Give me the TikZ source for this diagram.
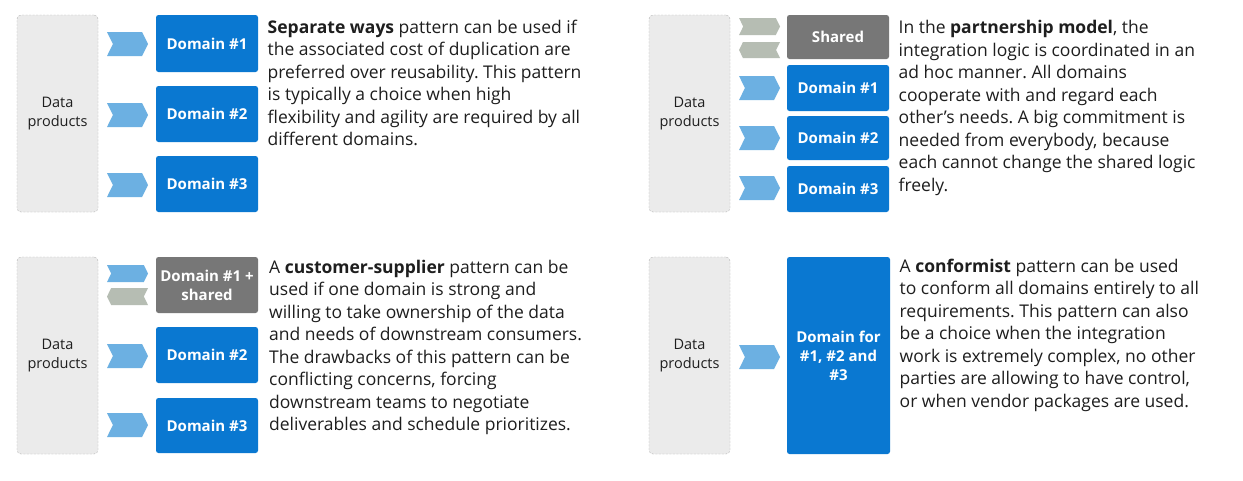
\documentclass[tikz,border=0pt]{standalone}
\usepackage{fontspec}
\setmainfont{Open Sans}
\usetikzlibrary{shapes.symbols,positioning}
\frenchspacing

\definecolor{domblue}{HTML}{0A78D1}
\definecolor{chevblue}{HTML}{6CB0E2}
\definecolor{sharedgray}{HTML}{777777}
\definecolor{chevgray}{HTML}{B6BDB3}
\definecolor{dpfill}{HTML}{EBEBEB}
\definecolor{dpline}{HTML}{B4B4B4}
\definecolor{notetext}{HTML}{1E1E1E}

\begin{document}
\begin{tikzpicture}[x=1pt,y=-1pt,
  dataprod/.style={draw=dpline,dash pattern=on 2pt off 1.5pt,fill=dpfill,
    rounded corners=4pt,minimum width=81pt,minimum height=197pt,
    inner sep=0pt,align=center,
    text=notetext,font=\fontsize{14.5}{19}\selectfont},
  dombox/.style={fill=domblue,rounded corners=2.5pt,text=white,
    minimum width=102pt,inner sep=0pt,align=center,
    font=\fontsize{15}{19}\selectfont\bfseries},
  sharedbox/.style={dombox,fill=sharedgray},
  chevr/.style={signal,signal to=east,signal from=west,fill=chevblue,
    minimum width=41pt,inner sep=0pt,signal pointer angle=127},
  chevl/.style={chevr,signal to=west,signal from=east,fill=chevgray},
  note/.style={anchor=north west,align=left,inner sep=0pt,text=notetext,
    font=\fontsize{17.5}{22.5}\selectfont}]
  \fill[white] (0,0) rectangle (1243,480);
  \useasboundingbox (0,0) rectangle (1243,480);

  % separate ways
  \node[dataprod] (dp1) at (57.5,113.5) {Data\\products};
  \node[chevr,minimum height=24pt] (c11) at (127.5,44) {};
  \node[chevr,minimum height=24pt] (c12) at (127.5,115) {};
  \node[chevr,minimum height=24pt] (c13) at (127.5,185) {};
  \node[dombox,minimum height=57pt] (d11) at (207,43.5) {Domain \#1};
  \node[dombox,minimum height=56pt] (d12) at (207,114) {Domain \#2};
  \node[dombox,minimum height=56pt] (d13) at (207,184) {Domain \#3};
  \node[note] (t1) at (267.5,19.7) {\textbf{Separate ways} pattern can be used if\\
    the associated cost of duplication are\\
    preferred over reusability. This pattern\\
    is typically a choice when high\\
    flexibility and agility are required by all\\
    different domains.};

  % partnership model
  \begin{scope}[shift={(632,0)}]
   \node[dataprod] (dp2) at (57.5,113.5) {Data\\products};
   \node[chevr,fill=chevgray,minimum height=17pt] (c2s) at (127.5,26.5) {};
   \node[chevl,minimum height=16pt] (c2r) at (127.5,50) {};
   \node[chevr,minimum height=24pt] (c21) at (127.5,88) {};
   \node[chevr,minimum height=24pt] (c22) at (127.5,138) {};
   \node[chevr,minimum height=24pt] (c23) at (127.5,188) {};
   \node[sharedbox,minimum height=44pt] (s2) at (206,37) {Shared};
   \node[dombox,minimum height=46pt] (d21) at (206,88) {Domain \#1};
   \node[dombox,minimum height=44pt] (d22) at (206,138) {Domain \#2};
   \node[dombox,minimum height=46pt] (d23) at (206,189) {Domain \#3};
   \node[note] (t2) at (266.5,20.3) {In the \textbf{partnership model}, the\\
     integration logic is coordinated in an\\
     ad hoc manner. All domains\\
     cooperate with and regard each\\
     other’s needs. A big commitment is\\
     needed from everybody, because\\
     each cannot change the shared logic\\
     freely.};
  \end{scope}

  % customer-supplier
  \begin{scope}[shift={(0,242)}]
   \node[dataprod] (dp3) at (57.5,113.5) {Data\\products};
   \node[chevr,minimum height=17pt] (c3s) at (127.5,31.5) {};
   \node[chevl,minimum height=17pt] (c3r) at (127.5,54.5) {};
   \node[chevr,minimum height=24pt] (c32) at (127.5,114) {};
   \node[chevr,minimum height=24pt] (c33) at (127.5,183) {};
   \node[sharedbox,minimum height=56pt] (s3) at (207,43) {Domain \#1 +\\shared};
   \node[dombox,minimum height=56pt] (d32) at (207,113) {Domain \#2};
   \node[dombox,minimum height=55pt] (d33) at (207,183.5) {Domain \#3};
   \node[note] (t3) at (269,17.5) {A \textbf{customer-supplier} pattern can be\\
     used if one domain is strong and\\
     willing to take ownership of the data\\
     and needs of downstream consumers.\\
     The drawbacks of this pattern can be\\
     conflicting concerns, forcing\\
     downstream teams to negotiate\\
     deliverables and schedule prioritizes.};
  \end{scope}

  % conformist
  \begin{scope}[shift={(632,242)}]
   \node[dataprod] (dp4) at (57.5,113.5) {Data\\products};
   \node[chevr,minimum height=24pt] (c41) at (127.5,115) {};
   \node[dombox,minimum height=197pt,minimum width=103pt] (d4) at (206.5,113.5)
     {Domain for\\\#1, \#2 and\\\#3};
   \node[note] (t4) at (267.5,16.7) {A \textbf{conformist} pattern can be used\\
     to conform all domains entirely to all\\
     requirements. This pattern can also\\
     be a choice when the integration\\
     work is extremely complex, no other\\
     parties are allowing to have control,\\
     or when vendor packages are used.};
  \end{scope}
\end{tikzpicture}
\end{document}
